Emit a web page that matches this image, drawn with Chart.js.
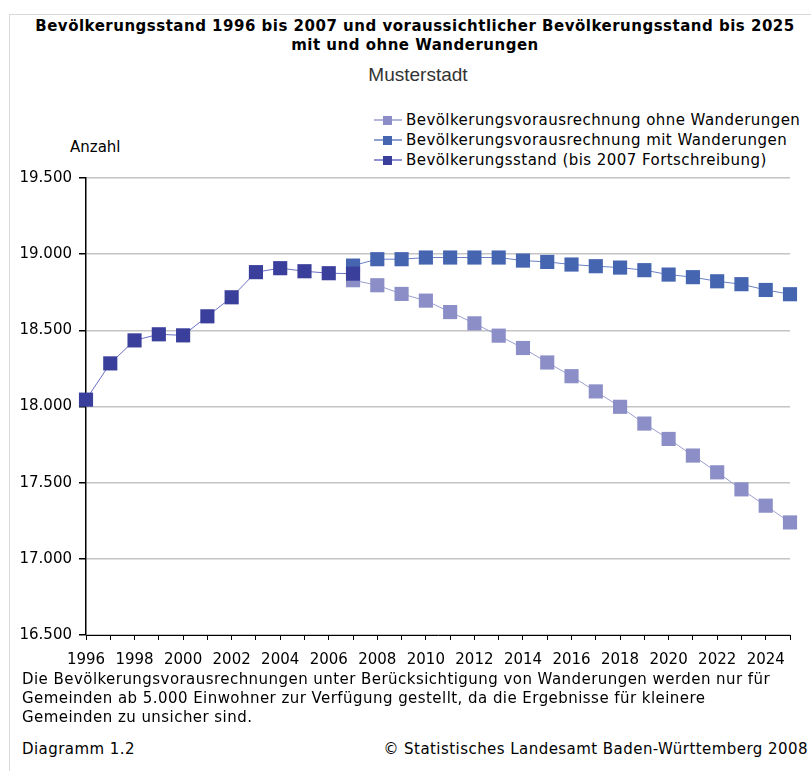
<!DOCTYPE html>
<html>
<head>
<meta charset="utf-8">
<script src="https://cdn.jsdelivr.net/npm/chart.js@4.4.1/dist/chart.umd.min.js"></script>
<style>
body { margin:0; background:#fff; font-family:"DejaVu Sans", sans-serif; color:#000; }
#wrap { position:relative; width:811px; height:771px; overflow:hidden; }
#frame { position:absolute; left:9px; top:14px; width:820px; height:800px; border-left:1px solid #d8d8d8; border-top:1px solid #d8d8d8; }
#title { position:absolute; left:0; width:830px; top:17px; text-align:center; font-family:"DejaVu Sans", sans-serif; font-weight:bold; font-size:15px; letter-spacing:0.5px; line-height:19px; }
#sub { position:absolute; left:0; width:836px; top:64px; text-align:center; font-family:"Liberation Sans", sans-serif; font-size:19px; color:#333; }
#legend { position:absolute; left:374px; top:110px; font-size:15px; letter-spacing:0.45px; line-height:20px; }
#legend div { white-space:nowrap; }
#legend canvas { vertical-align:middle; margin-right:4px; position:relative; top:-1px; }
#anzahl { position:absolute; left:70px; top:138px; font-size:15px; }
#chartbox { position:absolute; left:0; top:141px; width:811px; height:534px; }
#note { position:absolute; left:22px; top:670px; font-size:15px; letter-spacing:0.45px; line-height:19px; white-space:nowrap; }
#diag { position:absolute; left:22px; top:740px; font-size:15px; letter-spacing:0.45px; }
#copy { position:absolute; right:3px; top:740px; font-size:15px; letter-spacing:0.45px; white-space:nowrap; }
</style>
</head>
<body>
<div id="wrap">
  <div id="frame"></div>
  <div id="title">Bevölkerungsstand 1996 bis 2007 und voraussichtlicher Bevölkerungsstand bis 2025<br>mit und ohne Wanderungen</div>
  <div id="sub">Musterstadt</div>
  <div id="legend"></div>
  <div id="anzahl">Anzahl</div>
  <div id="chartbox"><canvas id="chart"></canvas></div>
  <div id="note">Die Bevölkerungsvorausrechnungen unter Berücksichtigung von Wanderungen werden nur für<br>Gemeinden ab 5.000 Einwohner zur Verfügung gestellt, da die Ergebnisse für kleinere<br>Gemeinden zu unsicher sind.</div>
  <div id="diag">Diagramm 1.2</div>
  <div id="copy">© Statistisches Landesamt Baden-Württemberg 2008</div>
</div>
<script>
// Bevoelkerungsstand 1996 - 2007
var yearsStand = [1996, 1997, 1998, 1999, 2000, 2001, 2002, 2003, 2004, 2005, 2006, 2007];
var stand = [18045, 18283, 18434, 18474, 18467, 18592, 18717, 18882, 18908, 18888, 18875, 18872];

// Vorausrechnung 2007 - 2025
var yearsProg = [2007, 2008, 2009, 2010, 2011, 2012, 2013, 2014, 2015, 2016, 2017, 2018, 2019, 2020, 2021, 2022, 2023, 2024, 2025];
var mitWanderungen = [18925, 18967, 18967, 18978, 18978, 18978, 18978, 18958, 18949, 18932, 18921, 18912, 18895, 18866, 18849, 18822, 18803, 18765, 18737];
var ohneWanderungen = [18829, 18796, 18739, 18695, 18620, 18546, 18465, 18384, 18289, 18199, 18099, 17998, 17888, 17787, 17678, 17568, 17456, 17349, 17239];

var labelOhne = "Bevölkerungsvorausrechnung ohne Wanderungen";
var labelMit = "Bevölkerungsvorausrechnung mit Wanderungen";
var labelStand = "Bevölkerungsstand (bis 2007 Fortschreibung)";

function toPoints(xs, ys) {
	var pts = [];
	for (var i = 0; i < xs.length; i++) pts.push({ x: xs[i], y: ys[i] });
	return pts;
}

function fmt(v) {
	var t = Math.floor(v / 1000);
	var r = String(v % 1000);
	while (r.length < 3) r = "0" + r;
	return t + "." + r;
}

var font = { family: "DejaVu Sans", size: 15 };

function ds(label, xs, ys, fill, line) {
	return {
		label: label,
		data: toPoints(xs, ys),
		borderColor: line,
		backgroundColor: fill,
		borderWidth: 1,
		pointStyle: 'rect',
		pointRadius: 10,
		pointHoverRadius: 10,
		pointBackgroundColor: fill,
		pointBorderColor: fill,
		pointBorderWidth: 0,
		tension: 0,
		clip: false
	};
}

var datasets = [
	// first dataset is drawn on top
	ds(labelStand, yearsStand, stand, '#3b3f9c', '#6a6fc2'),
	ds(labelMit, yearsProg, mitWanderungen, '#4565b0', '#6a80c4'),
	ds(labelOhne, yearsProg, ohneWanderungen, '#8b8ec7', '#9a9dd0')
];

// legend as in the original: ohne, mit, stand
var legendOrder = [2, 1, 0];
var legendEl = document.getElementById("legend");
legendOrder.forEach(function(i) {
	var d = datasets[i];
	var row = document.createElement("div");
	var c = document.createElement("canvas");
	c.width = 28; c.height = 12;
	var g = c.getContext("2d");
	g.strokeStyle = d.borderColor; g.lineWidth = 1.5;
	g.beginPath(); g.moveTo(0, 6); g.lineTo(28, 6); g.stroke();
	g.fillStyle = d.backgroundColor; g.fillRect(9, 2, 9, 9);
	row.appendChild(c);
	row.appendChild(document.createTextNode(d.label));
	legendEl.appendChild(row);
});

new Chart(document.getElementById("chart"), {
	type: 'line',
	data: { datasets: datasets },
	options: {
		responsive: true,
		maintainAspectRatio: false,
		animation: false,
		layout: { padding: { top: 37, right: 21, left: 0, bottom: 0 } },
		plugins: {
			legend: { display: false },
			tooltip: { enabled: false }
		},
		scales: {
			x: {
				type: 'linear',
				min: 1996,
				max: 2025,
				afterFit: function(s) { s.height = 40; },
				ticks: {
					stepSize: 1,
					autoSkip: false,
					maxRotation: 0,
					color: '#000',
					font: font,
					padding: 11,
					callback: function(v) { return (v % 2 === 0 && v < 2025) ? String(v) : ''; }
				},
				grid: { drawOnChartArea: false, tickLength: 5, color: '#000', tickColor: '#000' },
				border: { color: '#000', width: 1 }
			},
			y: {
				min: 16500,
				max: 19500,
				afterFit: function(s) { s.width = 86; },
				ticks: {
					stepSize: 500,
					color: '#000',
					font: font,
					padding: 7,
					callback: function(v) { return fmt(v); }
				},
				grid: { color: '#c4c4c4', tickColor: '#000', tickLength: 7, lineWidth: 1.5 },
				border: { color: '#000', width: 1.5 }
			}
		}
	}
});
</script>
</body>
</html>
